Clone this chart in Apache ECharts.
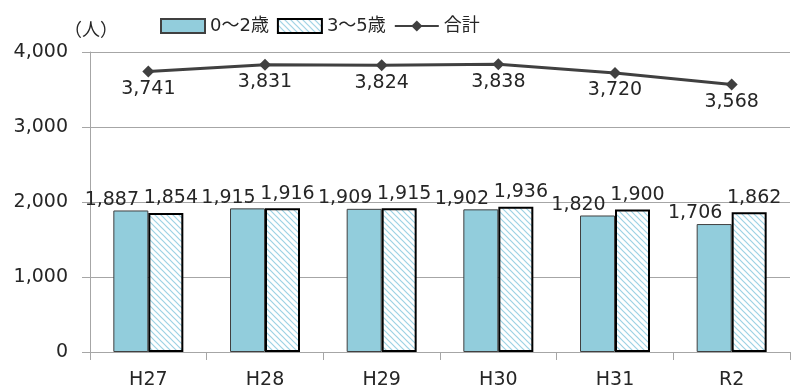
<!DOCTYPE html>
<html><head><meta charset="utf-8">
<script src="https://cdn.jsdelivr.net/npm/echarts@6/dist/echarts.min.js"></script>
<style>html,body{margin:0;padding:0;background:#fff}#c{width:793px;height:390px}</style>
</head><body><div id="c"></div>
<script>
var categories = ['H27','H28','H29','H30','H31','R2'];
var age0to2 = [1887,1915,1909,1902,1820,1706];
var age3to5 = [1854,1916,1915,1936,1900,1862];
var total = [3741,3831,3824,3838,3720,3568];
var seriesNames = ['0～2歳','3～5歳','合計'];

var FONT = '"DejaVu Sans", "Noto Sans CJK JP", sans-serif';
var TXT = '#262626';

function hatch(){
  var c = document.createElement('canvas');
  c.width = 6; c.height = 6;
  var g = c.getContext('2d');
  g.fillStyle = '#fff'; g.fillRect(0,0,6,6);
  g.strokeStyle = '#9dd2e4'; g.lineWidth = 1.2;
  g.beginPath();
  g.moveTo(-1,-1); g.lineTo(7,7);
  g.moveTo(-1,5); g.lineTo(1,7);
  g.moveTo(5,-1); g.lineTo(7,1);
  g.stroke();
  return c;
}
var pat = {image: hatch(), repeat: 'repeat'};
var fmt = function(p){ return p.value.toLocaleString('en-US'); };

var chart = echarts.init(document.getElementById('c'), null, {renderer:'canvas'});
chart.setOption({
  animation: false,
  textStyle: {fontFamily: FONT},
  grid: {left: 90, right: 3, top: 52, bottom: 38},
  legend: {
    top: 12, left: 155, itemWidth: 44, itemHeight: 14, itemGap: 8,
    textStyle: {fontFamily: FONT, fontSize: 18, color: TXT},
    data: [
      {name: seriesNames[0], icon: 'rect'},
      {name: seriesNames[1], icon: 'rect'},
      {name: seriesNames[2]}
    ]
  },
  graphic: [{type: 'text', left: 64, top: 22, style: {text: '（人）', font: '18px ' + FONT, fill: TXT}}],
  xAxis: {
    type: 'category', data: categories,
    axisLine: {lineStyle: {color: '#a6a6a6', width: 1}},
    axisTick: {show: true, alignWithLabel: false, length: 8, lineStyle: {color: '#a6a6a6'}},
    axisLabel: {fontSize: 19, color: TXT, margin: 19, fontFamily: FONT}
  },
  yAxis: {
    type: 'value', min: 0, max: 4000, interval: 1000,
    axisLine: {show: true, lineStyle: {color: '#a6a6a6'}},
    axisTick: {show: true, length: 8, lineStyle: {color: '#a6a6a6'}},
    splitLine: {lineStyle: {color: '#a6a6a6', width: 1}},
    axisLabel: {fontSize: 19, color: TXT, margin: 22, fontFamily: FONT,
      formatter: function(v){ return v.toLocaleString('en-US'); }}
  },
  series: [
    {
      name: seriesNames[0], type: 'bar', data: age0to2,
      barWidth: 35, barGap: '0%',
      itemStyle: {color: '#92cddc', borderColor: '#404040', borderWidth: 1},
      label: {show: true, position: 'top', distance: 1, offset: [-19, 0], fontSize: 19, color: TXT, fontFamily: FONT, formatter: fmt}
    },
    {
      name: seriesNames[1], type: 'bar', data: age3to5,
      barWidth: 35,
      itemStyle: {color: pat, borderColor: '#000', borderWidth: 2},
      label: {show: true, position: 'top', distance: 5, offset: [5, 0], fontSize: 19, color: TXT, fontFamily: FONT, formatter: fmt}
    },
    {
      name: seriesNames[2], type: 'line', data: total,
      symbol: 'diamond', symbolSize: 12,
      lineStyle: {color: '#404040', width: 3},
      itemStyle: {color: '#404040'},
      label: {show: true, position: 'bottom', distance: 2, fontSize: 19, color: TXT, fontFamily: FONT, formatter: fmt},
      z: 5
    }
  ]
});
</script></body></html>
